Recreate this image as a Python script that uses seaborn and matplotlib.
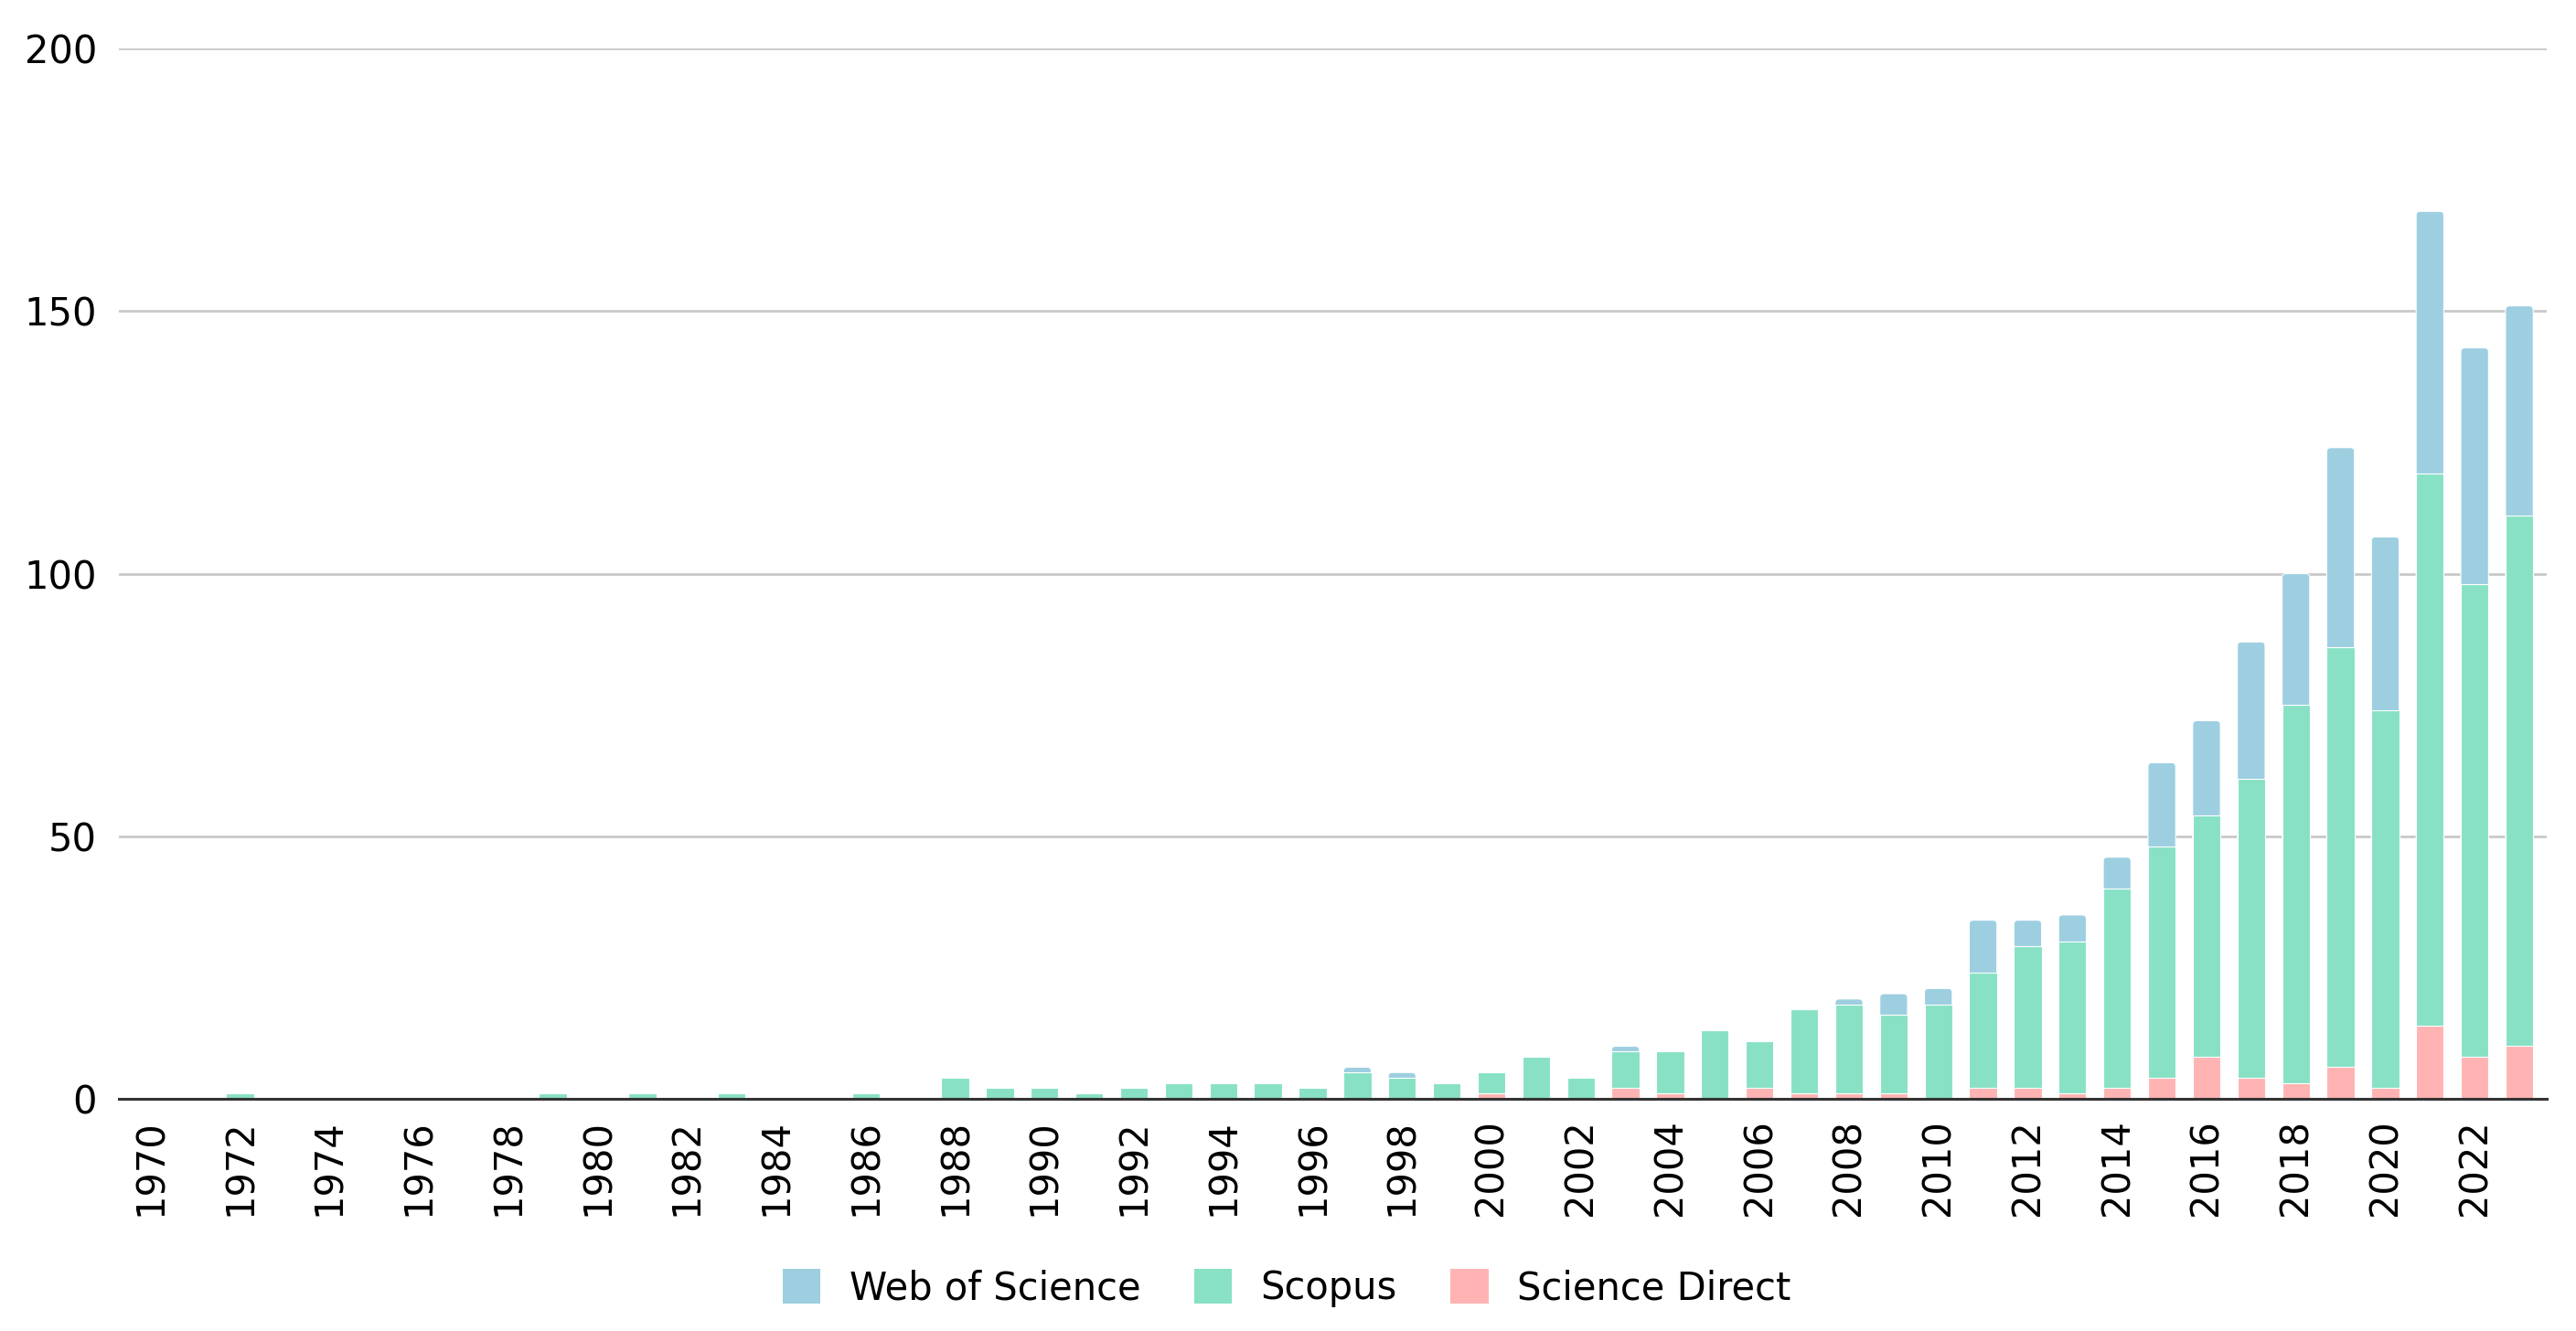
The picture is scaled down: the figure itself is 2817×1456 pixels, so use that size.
import matplotlib
matplotlib.use("Agg")
import matplotlib.pyplot as plt
from matplotlib.patches import Patch, FancyBboxPatch
import numpy as np
import pandas as pd
import seaborn as sns

sns.set_theme(style="white")
plt.rcParams["font.family"] = ["DejaVu Sans"]
plt.rcParams["text.color"] = "black"

colors = {"Web of Science": "#9dcfe1", "Scopus": "#88e1c5", "Science Direct": "#ffb3b3"}

years = list(range(1970, 2024))

# publications per year
wos = [0, 0, 0, 0, 0, 0, 0, 0, 0, 0,      # 1970-1979
       0, 0, 0, 0, 0, 0, 0, 0, 0, 0,      # 1980-1989
       0, 0, 0, 0, 0, 0, 0, 1, 1, 0,      # 1990-1999
       0, 0, 0, 1, 0, 0, 0, 0, 1, 4,      # 2000-2009
       3, 10, 5, 5, 6, 16, 18, 26, 25, 38,  # 2010-2019
       33, 50, 45, 40]                    # 2020-2023
scopus = [0, 0, 1, 0, 0, 0, 0, 0, 0, 1,
          0, 1, 0, 1, 0, 0, 1, 0, 4, 2,
          2, 1, 2, 3, 3, 3, 2, 5, 4, 3,
          4, 8, 4, 7, 8, 13, 9, 16, 17, 15,
          18, 22, 27, 29, 38, 44, 46, 57, 72, 80,
          72, 105, 90, 101]
sd = [0, 0, 0, 0, 0, 0, 0, 0, 0, 0,
      0, 0, 0, 0, 0, 0, 0, 0, 0, 0,
      0, 0, 0, 0, 0, 0, 0, 0, 0, 0,
      1, 0, 0, 2, 1, 0, 2, 1, 1, 1,
      0, 2, 2, 1, 2, 4, 8, 4, 3, 6,
      2, 14, 8, 10]

df = pd.DataFrame({"Year": [str(y) for y in years],
                   "Web of Science": wos, "Scopus": scopus, "Science Direct": sd})
# stacked by layering cumulative sums
df["top"] = df["Web of Science"] + df["Scopus"] + df["Science Direct"]
df["mid"] = df["Scopus"] + df["Science Direct"]
df["low"] = df["Science Direct"]

fig = plt.figure(figsize=(28.17, 14.56), dpi=100)
ax = fig.add_axes([0.046, 0.1745, 0.9426, 0.789])

for col, name in [("top", "Web of Science"), ("mid", "Scopus"), ("low", "Science Direct")]:
    sns.barplot(data=df, x="Year", y=col, color=colors[name], width=0.62,
                edgecolor="white", linewidth=0.8, saturation=1, ax=ax)

ax.set_ylim(0, 200)
ax.set_xlim(-0.72, len(years) - 0.39)

# rounded tops on the Web of Science segments (like the original chart)
for rect, w in zip(list(ax.containers[0]), wos):
    if w == 0:
        continue
    fb = FancyBboxPatch((rect.get_x(), rect.get_y()), rect.get_width(), rect.get_height(),
                        boxstyle="round,pad=0,rounding_size=0.09", mutation_aspect=8.0,
                        facecolor=rect.get_facecolor(), edgecolor="white",
                        linewidth=0.8, zorder=0.9)
    ax.add_patch(fb)
    rect.remove()

ax.set_yticks([0, 50, 100, 150, 200])
ax.yaxis.grid(True, color="#c9c9c9", linewidth=2)
ax.set_axisbelow(True)
ax.set_xlabel("")
ax.set_ylabel("")

ax.set_xticks(range(0, len(years), 2))
ax.set_xticklabels([str(y) for y in years[::2]], rotation=90)
ax.tick_params(axis="x", labelsize=30, length=0, pad=16, labelcolor="black")
ax.tick_params(axis="y", labelsize=30, length=0, pad=17, labelcolor="black")

for s in ["top", "left", "right"]:
    ax.spines[s].set_visible(False)
ax.spines["bottom"].set_color("#333333")
ax.spines["bottom"].set_linewidth(2.2)

handles = [Patch(facecolor=colors[n], edgecolor="none", label=n)
           for n in ["Web of Science", "Scopus", "Science Direct"]]
fig.legend(handles=handles, loc="center", bbox_to_anchor=(0.4995, 0.032),
           ncol=3, frameon=False, fontsize=30, handlelength=1.0, handleheight=1.0,
           handletextpad=0.75, columnspacing=1.4, labelcolor="black")

fig.savefig("out.png", dpi=100)
